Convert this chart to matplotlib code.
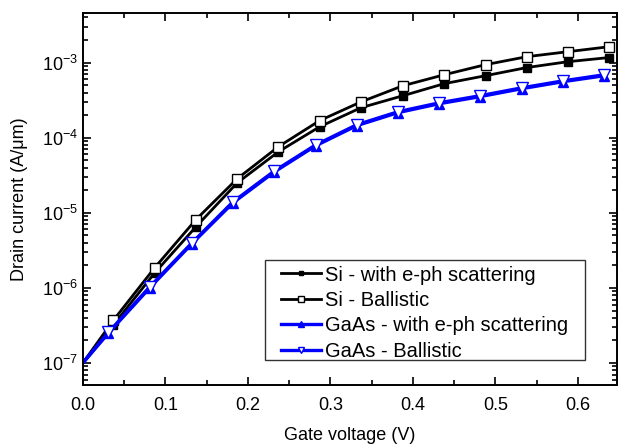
import numpy as np
import matplotlib
matplotlib.use("Agg")
import matplotlib.pyplot as plt
from matplotlib.patches import Rectangle
from matplotlib.ticker import MultipleLocator, LogLocator, NullFormatter

plt.rcParams['font.family'] = ['Liberation Sans', 'DejaVu Sans']
plt.rcParams['mathtext.fontset'] = 'custom'
plt.rcParams['mathtext.rm'] = 'Liberation Sans'
plt.rcParams['mathtext.it'] = 'Liberation Sans:italic'

# gate voltage (V) - first point at 0 has no marker
vg_si = [0.0, 0.037, 0.087, 0.137, 0.187, 0.237, 0.287, 0.337, 0.388, 0.438, 0.488, 0.538, 0.588, 0.638]
vg_gaas = [0.0, 0.031, 0.081, 0.132, 0.182, 0.232, 0.282, 0.332, 0.382, 0.432, 0.481, 0.532, 0.582, 0.632]

# drain current (A/um)
si_scat = [1.0e-7, 3.2e-7, 1.58e-6, 6.5e-6, 2.5e-5, 6.5e-5, 1.40e-4, 2.51e-4, 3.63e-4, 5.25e-4, 6.7e-4, 8.6e-4, 1.03e-3, 1.17e-3]
si_ball = [1.0e-7, 3.7e-7, 1.85e-6, 8.1e-6, 2.84e-5, 7.6e-5, 1.69e-4, 3.0e-4, 4.93e-4, 6.9e-4, 9.4e-4, 1.2e-3, 1.4e-3, 1.63e-3]
gaas_scat = [1.0e-7, 2.5e-7, 1.0e-6, 3.86e-6, 1.36e-5, 3.5e-5, 7.8e-5, 1.45e-4, 2.16e-4, 2.84e-4, 3.52e-4, 4.5e-4, 5.58e-4, 6.7e-4]
gaas_ball = [1.0e-7, 2.55e-7, 1.03e-6, 3.95e-6, 1.4e-5, 3.6e-5, 8.0e-5, 1.49e-4, 2.22e-4, 2.92e-4, 3.62e-4, 4.62e-4, 5.72e-4, 6.9e-4]

fig = plt.figure(figsize=(6.18, 4.44), dpi=100)
ax = fig.add_axes([0.134, 0.133, 0.864, 0.838])

mk = range(1, len(vg_si))
ax.plot(vg_si, si_scat, '-', color='black', lw=2.0, marker='s', ms=6,
        mfc='black', mec='black', markevery=mk, label='Si - with e-ph scattering')
ax.plot(vg_si, si_ball, '-', color='black', lw=2.0, marker='s', ms=6.5,
        mfc='white', mec='black', mew=1.0, markevery=mk, label='Si - Ballistic')
ax.plot(vg_gaas, gaas_scat, '-', color='blue', lw=2.4, marker='^', ms=7,
        mfc='blue', mec='blue', markevery=mk, label='GaAs - with e-ph scattering')
ax.plot(vg_gaas, gaas_ball, '-', color='blue', lw=2.4, marker='v', ms=8,
        mfc='white', mec='blue', mew=1.0, markevery=mk, label='GaAs - Ballistic')

ax.set_yscale('log')
ax.set_xlim(0, 0.647)
ax.set_ylim(5.1e-8, 4.6e-3)

ax.xaxis.set_major_locator(MultipleLocator(0.1))
ax.xaxis.set_minor_locator(MultipleLocator(0.05))
ax.yaxis.set_major_locator(LogLocator(base=10, numticks=20))
ax.yaxis.set_minor_locator(LogLocator(base=10, subs=np.arange(2, 10), numticks=20))
ax.yaxis.set_minor_formatter(NullFormatter())

ax.tick_params(which='both', direction='in', top=True, right=True, labelsize=13, width=1.2)
ax.tick_params(which='major', length=6)
ax.tick_params(which='minor', length=3.5)
ax.tick_params(axis='x', which='major', pad=9)
for sp in ax.spines.values():
    sp.set_linewidth(1.4)

ax.set_xlabel('Gate voltage (V)', fontsize=13, labelpad=9)
ax.set_ylabel('Drain current (A/\u03bcm)', fontsize=13, labelpad=10)

# legend frame drawn separately so it matches the box size
ax.add_patch(Rectangle((0.341, 0.067), 0.599, 0.269, transform=ax.transAxes,
                       facecolor='white', edgecolor='#333333', lw=1.0, zorder=4))
leg = ax.legend(loc='upper left', bbox_to_anchor=(0.372, 0.321), fontsize=14.5,
                frameon=False, handlelength=1.95, labelspacing=0.32,
                borderpad=0.0, borderaxespad=0.0, handletextpad=0.2,
                markerscale=0.6)
leg.set_zorder(5)

fig.savefig('out.png', dpi=100)
